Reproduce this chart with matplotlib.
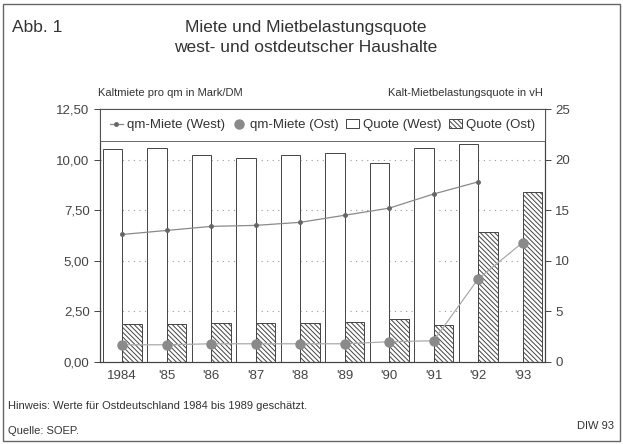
import matplotlib.pyplot as plt
import numpy as np
from matplotlib.patches import Rectangle, Patch
from matplotlib.lines import Line2D

plt.rcParams['font.family'] = ['Liberation Sans', 'DejaVu Sans']
plt.rcParams['hatch.linewidth'] = 0.7

years = ["1984", "'85", "'86", "'87", "'88", "'89", "'90", "'91", "'92", "'93"]
miete_west = [6.3, 6.5, 6.7, 6.75, 6.9, 7.25, 7.6, 8.3, 8.9, np.nan]
miete_ost = [0.85, 0.85, 0.9, 0.9, 0.9, 0.9, 1.0, 1.05, 4.1, 5.9]
quote_west = [21.0, 21.1, 20.5, 20.2, 20.5, 20.7, 19.7, 21.1, 21.5, np.nan]
quote_ost = [3.8, 3.8, 3.9, 3.9, 3.9, 4.0, 4.25, 3.7, 12.8, 16.8]

left_ticks = [0, 2.5, 5, 7.5, 10, 12.5]
left_labels = ["0,00", "2,50", "5,00", "7,50", "10,00", "12,50"]
right_ticks = [0, 5, 10, 15, 20, 25]

ink = '#444444'
grey = '#8a8a8a'
hatch = '\\\\\\\\\\\\\\'

fig = plt.figure(figsize=(6.23, 4.44), dpi=100)
ax2 = fig.add_axes([0.1605, 0.1847, 0.714, 0.5698])
ax1 = ax2.twinx()
ax1.set_zorder(ax2.get_zorder() + 1)
ax1.patch.set_visible(False)

x = np.arange(len(years))
w = 0.44
ax2.bar(x - w / 2, quote_west, width=w, color='white', edgecolor=ink, linewidth=0.7)
ax2.bar(x + w / 2, quote_ost, width=w, color='white', edgecolor=ink, linewidth=0.7,
        hatch=hatch)
ax2.set_ylim(0, 25)
ax2.set_xlim(-0.5, len(years) - 0.5)
ax2.set_axisbelow(True)
ax2.grid(axis='y', linestyle=(0, (1, 4)), color='#999999', linewidth=0.8)

ax1.plot(x, miete_west, color=grey, linewidth=0.9, marker='o', markersize=2.5,
         markerfacecolor='#666666', markeredgecolor='#666666')
ax1.plot(x, miete_ost, color='#aaaaaa', linewidth=0.9, marker='o', markersize=6.5,
         markerfacecolor=grey, markeredgecolor=grey)
ax1.set_ylim(0, 12.5)

# left axis = rent, right axis = quota
ax1.yaxis.tick_left()
ax1.yaxis.set_label_position('left')
ax2.yaxis.tick_right()
ax1.set_yticks(left_ticks)
ax1.set_yticklabels(left_labels)
ax2.set_yticks(right_ticks)
ax2.set_yticklabels([str(t) for t in right_ticks])
ax2.set_xticks(x)
ax2.set_xticklabels(years)
for a in (ax1, ax2):
    a.tick_params(axis='y', labelsize=9.5, colors=ink, length=4, width=0.7)
    a.tick_params(axis='x', length=0, labelsize=9.5, colors=ink, pad=6)
    for s in a.spines.values():
        s.set_color(ink)
        s.set_linewidth(0.8)

handles = [
    Line2D([], [], color=grey, linewidth=0.9, marker='o', markersize=2.5,
           markerfacecolor='#666666', markeredgecolor='#666666'),
    Line2D([], [], linestyle='none', marker='o', markersize=6.5,
           markerfacecolor=grey, markeredgecolor=grey),
    Patch(facecolor='white', edgecolor=ink, linewidth=0.7),
    Patch(facecolor='white', edgecolor=ink, linewidth=0.7, hatch=hatch),
]
labels = ["qm-Miete (West)", "qm-Miete (Ost)", "Quote (West)", "Quote (Ost)"]
leg = ax1.legend(handles, labels, ncol=4, loc='upper left', mode='expand',
                 bbox_to_anchor=(0, 0, 1, 1), borderaxespad=0, fontsize=9.5,
                 frameon=True, fancybox=False, handlelength=1.0, handletextpad=0.3,
                 columnspacing=0.6, borderpad=0.75)
leg.get_frame().set_edgecolor(ink)
leg.get_frame().set_linewidth(0.7)
for t in leg.get_texts():
    t.set_color('#333333')

fig.text(0.157, 0.79, "Kaltmiete pro qm in Mark/DM", fontsize=8, color='#333333', va='center')
fig.text(0.872, 0.79, "Kalt-Mietbelastungsquote in vH", fontsize=8, color='#333333',
         va='center', ha='right')

fig.text(0.02, 0.937, "Abb. 1", fontsize=12.5, color='#333333', va='center')
fig.text(0.49, 0.937, "Miete und Mietbelastungsquote", fontsize=12.5, color='#333333',
         va='center', ha='center')
fig.text(0.49, 0.893, "west- und ostdeutscher Haushalte", fontsize=12.5, color='#333333',
         va='center', ha='center')

fig.text(0.013, 0.085, "Hinweis: Werte für Ostdeutschland 1984 bis 1989 geschätzt.",
         fontsize=8, color='#333333', va='center')
fig.text(0.013, 0.029, "Quelle: SOEP.", fontsize=8, color='#333333', va='center')
fig.text(0.985, 0.04, "DIW 93", fontsize=8, color='#333333', va='center', ha='right')

fig.add_artist(Rectangle((0.005, 0.007), 0.99, 0.983, transform=fig.transFigure,
                         fill=False, edgecolor='#666666', linewidth=1.0))

fig.savefig('out.png', dpi=100, facecolor='white')
